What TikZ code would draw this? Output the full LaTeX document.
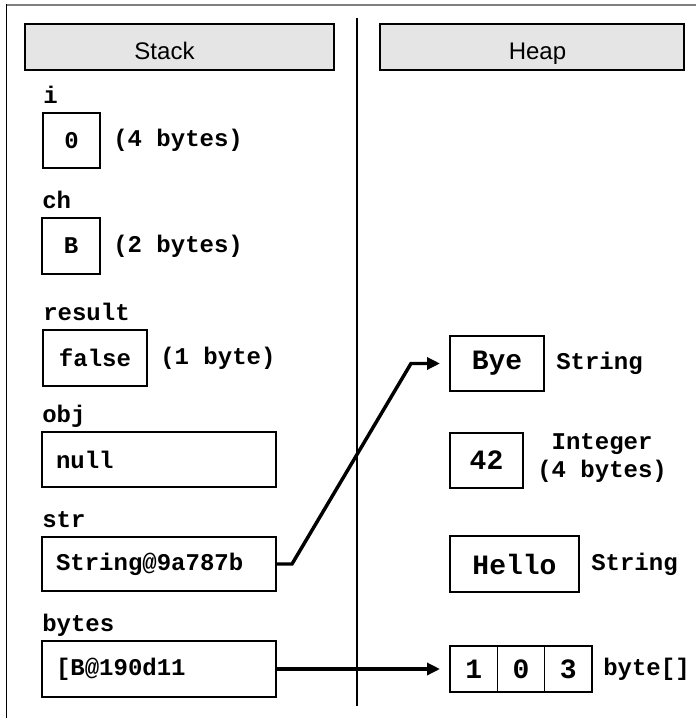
\documentclass[tikz,border=0pt]{standalone}
\usepackage{fontspec}
\setmainfont{Liberation Sans}
\setmonofont{Liberation Mono}
\usetikzlibrary{arrows.meta,calc,positioning}
\tikzstyle{ptr} = [line width=2.6pt, -{Triangle[length=9.75pt,width=9pt]}, shorten >=7.5pt]

\begin{document}
\begin{tikzpicture}[x=0.75pt,y=-0.75pt]
\tikzset{hdr/.style={draw,fill=black!10,line width=0.9pt,font=\fontsize{18}{20}\selectfont,minimum height=46*0.75pt,inner sep=0pt,text height=18.75pt,text depth=0pt}}
\tikzset{cell/.style={draw,line width=0.9pt,minimum height=55*0.75pt,inner sep=0pt,outer sep=0pt,font=\ttfamily\bfseries\fontsize{18}{20}\selectfont}}
\tikzset{wide/.style={cell,minimum width=234*0.75pt,text width=206*0.75pt,align=left}}
\tikzset{var/.style={anchor=base west,inner sep=0pt,font=\ttfamily\bfseries\fontsize{18}{20}\selectfont}}
\tikzset{note/.style={anchor=west,inner sep=0pt,font=\ttfamily\bfseries\fontsize{18}{20}\selectfont}}
\tikzset{obj/.style={cell,font=\ttfamily\bfseries\fontsize{21}{24}\selectfont}}
\tikzset{kind/.style={anchor=west,inner sep=0pt,align=center,font=\ttfamily\bfseries\fontsize{18}{21}\selectfont}}

\useasboundingbox (0,0) rectangle (696,718);
% frame and divider
\draw[line width=1.5pt,black!50] (5.5,4.5) -- (696,4.5);
\draw[line width=1.1pt] (6.5,4) -- (6.5,718);
\draw[line width=1.1pt] (357,18) -- (357,706);

\node[hdr,minimum width=309*0.75pt] (stackhd) at (179.5,47) {Stack\hspace*{22.5pt}};
\node[hdr,minimum width=304*0.75pt] (heaphd) at (532,47) {\hspace*{8.25pt}Heap};

% stack
\node[cell,minimum width=57*0.75pt] (ibox) at (71.5,140.5) {0};
\node[var] (ilbl) at ([yshift=7.5pt]ibox.north west) {i};
\node[note] (inote) at ([xshift=9.75pt]ibox.east) {(4 bytes)};

\node[cell,minimum width=58*0.75pt,minimum height=56*0.75pt] (chbox) at (71,246) {B};
\node[var] (chlbl) at ([yshift=7.5pt]chbox.north west) {ch};
\node[note] (chnote) at ([xshift=9.75pt]chbox.east) {(2 bytes)};

\node[cell,minimum width=104*0.75pt,minimum height=56*0.75pt] (resbox) at (95,358) {false};
\node[var] (reslbl) at ([yshift=7.5pt]resbox.north west) {result};
\node[note] (resnote) at ([xshift=9.75pt]resbox.east) {(1 byte)};

\node[wide] (objbox) at (159,459.5) {null};
\node[var] (objlbl) at ([yshift=7.5pt]objbox.north west) {obj};

\node[wide,minimum height=54*0.75pt] (strbox) at (159,564) {String@9a787b};
\node[var] (strlbl) at ([yshift=7.5pt]strbox.north west) {str};

\node[wide,minimum height=56*0.75pt] (bytbox) at (159,669) {[B@190d11};
\node[var] (bytlbl) at ([yshift=7.5pt]bytbox.north west) {bytes};

% heap
\node[obj,minimum width=94*0.75pt] (byebox) at (497,363.5) {Bye};
\node[kind] (byekind) at ([xshift=9pt]byebox.east) {String};

\node[obj,minimum width=73*0.75pt] (intbox) at (486.5,460.5) {42};
\node[kind] (intkind) at ([xshift=10.5pt,yshift=2pt]intbox.east) {Integer\\(4 bytes)};

\node[obj,minimum width=129*0.75pt,minimum height=56*0.75pt] (hellobox) at (514.5,564) {Hello};
\node[kind] (hellokind) at ([xshift=9pt]hellobox.east) {String};

\node[obj,minimum width=142/3*0.75pt,minimum height=46*0.75pt] (c1) at (473.67,669) {1};
\foreach \v [count=\k from 2] in {0,3} {
\pgfmathtruncatemacro\j{\k-1}
\node[obj,minimum width=142/3*0.75pt,minimum height=46*0.75pt,right=0pt of c\j] (c\k) {\v}; }
\node[kind] (arrkind) at ([xshift=8.25pt]c3.east) {byte[]};

% references
\draw[ptr] (strbox.east) -- ++(16,0) -- ($(byebox.west)+(-39,0)$) -- (byebox.west);
\draw[ptr] (bytbox.east) -- (c1.west);
\end{tikzpicture}
\end{document}
